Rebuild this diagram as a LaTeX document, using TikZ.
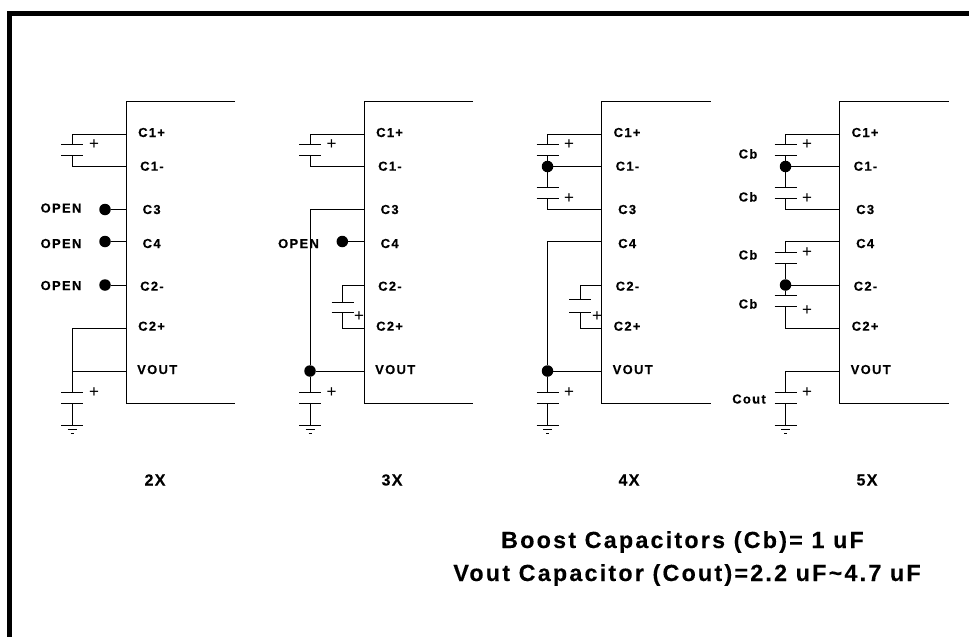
\documentclass[tikz,border=0pt]{standalone}
\usepackage{fontspec}
\setmainfont{Liberation Sans}
\newfontfamily\lblfont[LetterSpace=10,FakeBold=0.25]{Liberation Sans Bold}
\newfontfamily\ttlfont[LetterSpace=9.5,FakeBold=0.25]{Liberation Sans Bold}
\newfontfamily\ratfont[LetterSpace=8,FakeBold=0.25]{Liberation Sans Bold}
\tikzset{
  wire/.style={draw=black,line width=1pt,line cap=butt},
  plate/.style={draw=black,line width=1pt},
  frame/.style={draw=black,line width=5pt},
  dotnode/.style={circle,fill=black,draw=none,minimum size=11.5pt,inner sep=0pt},
  pinlbl/.style={anchor=base west,inner sep=0pt,font=\fontsize{13}{13}\lblfont},
  sidelbl/.style={anchor=base,inner sep=0pt,font=\fontsize{13}{13}\lblfont},
  ratiolbl/.style={anchor=base,inner sep=0pt,font=\fontsize{16}{16}\ratfont},
  titlelbl/.style={anchor=base,inner sep=0pt,font=\fontsize{23.3}{23.3}\ttlfont},
  pluslbl/.style={inner sep=0pt,font=\fontsize{17}{17}\selectfont},
}
% IC body with pins
\newcommand{\icpanel}[2]{%
  \coordinate (#1tl) at (#2,101.5);
  \coordinate (#1tr) at (#2+109,101.5);
  \coordinate (#1bl) at (#2,403.5);
  \coordinate (#1br) at (#2+109,403.5);
  \draw[wire] (#1tr) -- (#1tl) -- (#1bl) -- (#1br);
  \coordinate (#1c1p) at (#2,134);
  \coordinate (#1c1m) at (#2,166.5);
  \coordinate (#1c3) at (#2,209.5);
  \coordinate (#1c4) at (#2,241.5);
  \coordinate (#1c2m) at (#2,285);
  \coordinate (#1c2p) at (#2,328);
  \coordinate (#1vout) at (#2,371);
  \node[pinlbl] (#1l1) at (#2+12,137) {C1+};
  \node[pinlbl] (#1l2) at (#2+14,170.7) {C1-};
  \node[pinlbl] (#1l3) at (#2+16.5,214) {C3};
  \node[pinlbl] (#1l4) at (#2+16.5,248) {C4};
  \node[pinlbl] (#1l5) at (#2+14,290.7) {C2-};
  \node[pinlbl] (#1l6) at (#2+12,330.7) {C2+};
  \node[pinlbl] (#1l7) at (#2+11,374) {VOUT};
}
% capacitor: name, x, top plate y, bottom plate y
\newcommand{\capv}[4]{%
  \coordinate (#1t) at (#2,#3);
  \coordinate (#1b) at (#2,#4);
  \draw[plate] (#2-11,#3) -- (#2+11,#3);
  \draw[plate] (#2-11,#4) -- (#2+11,#4);
}
\newcommand{\plusmark}[3]{\node[pluslbl] (#1) at (#2,#3) {+};}
% ground: name, x
\newcommand{\gnd}[2]{%
  \coordinate (#1) at (#2,425);
  \draw[wire] (#2-11,425) -- (#2+11,425);
  \draw[plate,line width=0.7pt] (#2-4.5,429.5) -- (#2+4.5,429.5);
  \draw[plate,line width=0.7pt] (#2-1.5,433.5) -- (#2+1.5,433.5);
}
\begin{document}
\begin{tikzpicture}[x=1pt,y=-1pt]
\useasboundingbox (0,0) rectangle (969,637);
\fill[white] (0,0) rectangle (969,637);
\coordinate (fbl) at (9.5,637);
\coordinate (ftl) at (9.5,13.5);
\coordinate (ftr) at (969,13.5);
\draw[frame,line join=miter] (fbl) -- (ftl) -- (ftr);

% ---------- 2X ----------
\icpanel{a}{126}
\capv{aca}{72}{144.5}{155.5}
\plusmark{aplA}{94}{145}
\draw[wire] (ac1p) -| (acat);
\draw[wire] (ac1m) -| (acab);
\node[dotnode] (ad1) at (105,209.5) {};
\node[dotnode] (ad2) at (105,241.5) {};
\node[dotnode] (ad3) at (105,285) {};
\draw[wire] (ad1) -- (ac3);
\draw[wire] (ad2) -- (ac4);
\draw[wire] (ad3) -- (ac2m);
\node[sidelbl] (ao1) at (61,212.5) {OPEN};
\node[sidelbl] (ao2) at (61,248) {OPEN};
\node[sidelbl] (ao3) at (61,290) {OPEN};
\capv{acb}{72}{392.5}{403.5}
\plusmark{aplB}{94}{392.5}
\coordinate (aj) at (72,371);
\draw[wire] (ac2p) -| (aj);
\draw[wire] (avout) -- (aj) -- (acbt);
\gnd{ag}{72}
\draw[wire] (acbb) -- (ag);
\node[ratiolbl] (ar) at (155,485.5) {2X};

% ---------- 3X ----------
\icpanel{b}{364}
\capv{bca}{310}{144.5}{155.5}
\plusmark{bplA}{331.7}{145}
\draw[wire] (bc1p) -| (bcat);
\draw[wire] (bc1m) -| (bcab);
\node[dotnode] (bd1) at (310,371) {};
\draw[wire] (bc3) -| (bd1);
\draw[wire] (bd1) -- (bvout);
\node[dotnode] (bd2) at (342.3,241.5) {};
\draw[wire] (bd2) -- (bc4);
\node[sidelbl] (bo1) at (298.5,248) {OPEN};
\capv{bcc}{342.5}{302.5}{312.5}
\plusmark{bplC}{359}{317}
\draw[wire] (bc2m) -| (bcct);
\draw[wire] (bc2p) -| (bccb);
\capv{bcb}{310}{392.5}{403.5}
\plusmark{bplB}{331.7}{392.5}
\draw[wire] (bd1) -- (bcbt);
\gnd{bg}{310}
\draw[wire] (bcbb) -- (bg);
\node[ratiolbl] (br) at (392,485.5) {3X};

% ---------- 4X ----------
\icpanel{c}{601.5}
\capv{cca}{547.5}{144.5}{155.5}
\plusmark{cplA}{569}{145}
\draw[wire] (cc1p) -| (ccat);
\node[dotnode] (cd1) at (547.5,166.5) {};
\draw[wire] (ccab) -- (cd1);
\draw[wire] (cd1) -- (cc1m);
\capv{ccd}{547.5}{187.5}{198.5}
\plusmark{cplD}{569}{198.5}
\draw[wire] (cd1) -- (ccdt);
\draw[wire] (cc3) -| (ccdb);
\node[dotnode] (cd2) at (547.5,371) {};
\draw[wire] (cc4) -| (cd2);
\draw[wire] (cd2) -- (cvout);
\capv{ccc}{580}{299.5}{312.5}
\plusmark{cplC}{597}{317}
\draw[wire] (cc2m) -| (ccct);
\draw[wire] (cc2p) -| (cccb);
\capv{ccb}{547.5}{392.5}{403.5}
\plusmark{cplB}{569}{392.5}
\draw[wire] (cd2) -- (ccbt);
\gnd{cg}{547.5}
\draw[wire] (ccbb) -- (cg);
\node[ratiolbl] (cr) at (629,485.5) {4X};

% ---------- 5X ----------
\icpanel{d}{839.5}
\capv{dca}{785.5}{144.5}{155.5}
\plusmark{dplA}{807}{145}
\draw[wire] (dc1p) -| (dcat);
\node[dotnode] (dd1) at (785.5,166.5) {};
\draw[wire] (dcab) -- (dd1);
\draw[wire] (dd1) -- (dc1m);
\capv{dcd}{785.5}{187.5}{198.5}
\plusmark{dplD}{807}{198.5}
\draw[wire] (dd1) -- (dcdt);
\draw[wire] (dc3) -| (dcdb);
\capv{dce}{785.5}{252.5}{263.5}
\plusmark{dplE}{807}{253}
\draw[wire] (dc4) -| (dcet);
\node[dotnode] (dd2) at (785.5,285) {};
\draw[wire] (dceb) -- (dd2);
\draw[wire] (dd2) -- (dc2m);
\capv{dcf}{785.5}{295.5}{306.5}
\plusmark{dplF}{807}{310.7}
\draw[wire] (dd2) -- (dcft);
\draw[wire] (dc2p) -| (dcfb);
\capv{dcb}{785.5}{392.5}{403.5}
\plusmark{dplB}{807}{392.5}
\draw[wire] (dvout) -| (dcbt);
\gnd{dg}{785.5}
\draw[wire] (dcbb) -- (dg);
\node[sidelbl] (dl1) at (748,158.5) {Cb};
\node[sidelbl] (dl2) at (748,201.5) {Cb};
\node[sidelbl] (dl3) at (748,259.5) {Cb};
\node[sidelbl] (dl4) at (748,308.5) {Cb};
\node[sidelbl] (dl5) at (749,403.5) {Cout};
\node[ratiolbl] (dr) at (867,485.5) {5X};

% ---------- notes ----------
\node[titlelbl] (t1) at (682.5,548) {Boost Capacitors (Cb)= 1 uF};
\node[titlelbl] (t2) at (687,581) {Vout Capacitor (Cout)=2.2 uF\char`\~4.7 uF};
\end{tikzpicture}
\end{document}
